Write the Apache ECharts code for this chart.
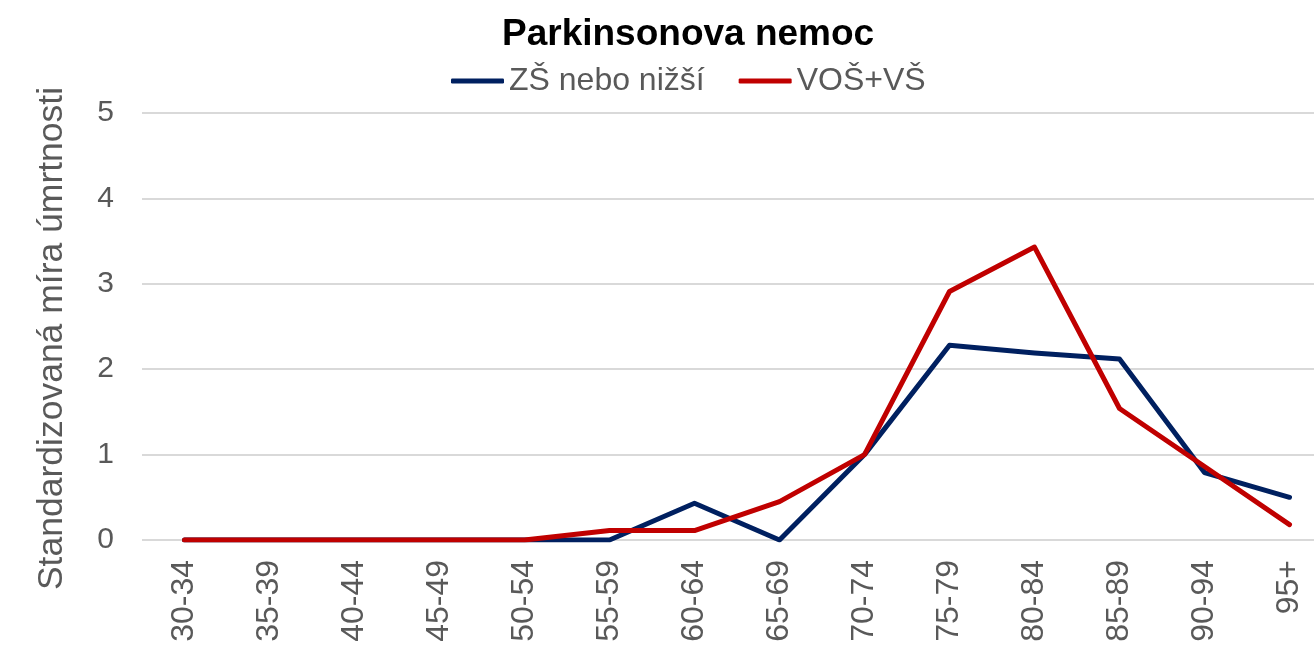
<!DOCTYPE html>
<html>
<head>
<meta charset="utf-8">
<script src="https://cdn.jsdelivr.net/npm/echarts@6/dist/echarts.min.js"></script>
<style>
  html, body { margin: 0; padding: 0; background: #fff; }
  #chart { width: 1314px; height: 645px; }
</style>
</head>
<body>
<div id="chart"></div>
<script>
// vekove skupiny
var categories = ["30-34", "35-39", "40-44", "45-49", "50-54", "55-59", "60-64",
  "65-69", "70-74", "75-79", "80-84", "85-89", "90-94", "95+"];
var zsValues = [0, 0, 0, 0, 0, 0, 0.43, 0, 1.0, 2.28, 2.19, 2.12, 0.79, 0.50];
var vosValues = [0, 0, 0, 0, 0, 0.11, 0.11, 0.45, 1.0, 2.91, 3.43, 1.54, 0.86, 0.18];
var yTicks = [0, 1, 2, 3, 4, 5];

var font = "Liberation Sans, Arial, sans-serif";
var chart = echarts.init(document.getElementById("chart"));

chart.setOption({
  animation: false,
  title: {
    text: "Parkinsonova nemoc",
    left: 497,
    top: 11,
    textStyle: {
      color: "#000",
      fontFamily: font,
      fontWeight: "bold",
      fontSize: 37
    }
  },
  legend: {
    data: ["ZŠ nebo nižší", "VOŠ+VŠ"],
    left: 446,
    top: 60,
    itemWidth: 53,
    itemHeight: 5,
    itemGap: 34,
    icon: "roundRect",
    textStyle: {
      color: "#595959",
      fontFamily: font,
      fontSize: 32
    }
  },
  grid: {
    left: 142,
    top: 113,
    width: 1190,
    bottom: 105,
    containLabel: false,
    outerBoundsMode: "none"
  },
  xAxis: {
    type: "category",
    data: categories,
    boundaryGap: true,
    axisLine: { show: false },
    axisTick: { show: false },
    axisLabel: {
      rotate: 90,
      margin: 20,
      color: "#595959",
      fontFamily: font,
      fontSize: 32
    }
  },
  yAxis: {
    type: "value",
    min: yTicks[0],
    max: yTicks[yTicks.length - 1],
    interval: 1,
    name: "Standardizovaná míra úmrtnosti",
    nameLocation: "middle",
    nameGap: 72,
    nameTextStyle: {
      color: "#595959",
      fontFamily: font,
      fontSize: 35.5,
      padding: [0, 24, 0, 0]
    },
    axisLine: { show: false },
    axisTick: { show: false },
    axisLabel: {
      margin: 28,
      color: "#595959",
      fontFamily: font,
      fontSize: 30
    },
    splitLine: {
      lineStyle: { color: "#d9d9d9", width: 2 }
    }
  },
  series: [
    {
      name: "ZŠ nebo nižší",
      type: "line",
      data: zsValues,
      showSymbol: false,
      symbol: "none",
      color: "#002060",
      lineStyle: { color: "#002060", width: 5, cap: "round", join: "round" }
    },
    {
      name: "VOŠ+VŠ",
      type: "line",
      data: vosValues,
      showSymbol: false,
      symbol: "none",
      color: "#c00000",
      lineStyle: { color: "#c00000", width: 5, cap: "round", join: "round" }
    }
  ]
});
</script>
</body>
</html>
